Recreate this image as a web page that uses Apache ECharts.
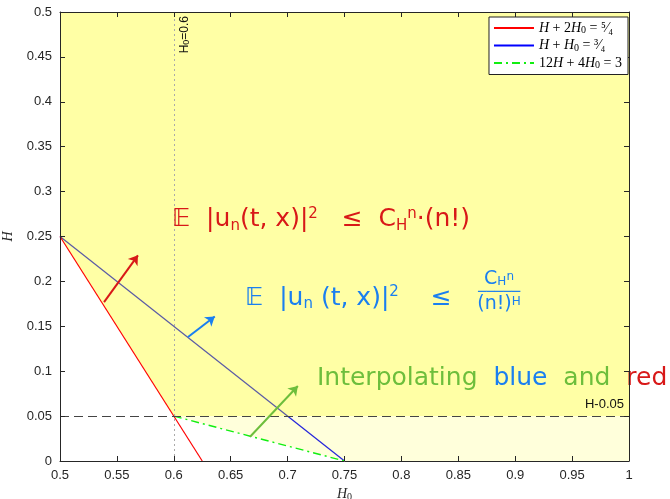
<!DOCTYPE html>
<html><head><meta charset="utf-8">
<script src="https://cdn.jsdelivr.net/npm/echarts@6/dist/echarts.min.js"></script>
<style>html,body{margin:0;padding:0;background:#fff}#c{width:670px;height:499px}</style>
</head><body><div id="c"></div>
<script>
// ---- data ----
const legendNames = ['H + 2H0 = 5/4', 'H + H0 = 3/4', '12H + 4H0 = 3'];
const redH0 = [0.5, 0.625];   const redH = [0.25, 0];
const blueH0 = [0.5, 0.75];   const blueH = [0.25, 0];
const greenH0 = [0.6, 0.75];  const greenH = [0.05, 0];
const yellowBoundH0 = [0.5, 0.6, 1]; const yellowBoundH = [0.25, 0.05, 0.05];
const paleBoundH0 = [0.6, 0.75, 1];  const paleBoundH = [0.05, 0, 0];
const vLineH0 = 0.6;
const hLineH = 0.05;
const arrowRed = [[0.5387, 0.177], [0.5685, 0.229]];
const arrowBlue = [[0.6125, 0.138], [0.636, 0.161]];
const arrowGreen = [[0.667, 0.027], [0.709, 0.0835]];
const noteRedPos = [0.5984, 0.2684];
const noteBluePos = [0.6626, 0.1815];
const noteFracPos = [0.8858, 0.1882];
const noteGreenPos = [0.7258, 0.0924];

const zip = (a, b) => a.map((v, i) => [v, b[i]]);
const axisCol = '#262626';
const fmt = v => String(parseFloat(v.toFixed(2)));
const RED = '#d81818', BLUE = '#1a7ff0', GREEN = '#6dbe3c';

const chart = echarts.init(document.getElementById('c'));
const legendRich = {
  i: {fontFamily: 'Liberation Serif', fontStyle: 'italic', fontSize: 14, color: '#000'},
  n: {fontFamily: 'Liberation Serif', fontSize: 14, color: '#000'},
  s: {fontFamily: 'Liberation Serif', fontSize: 10, color: '#000', verticalAlign: 'bottom', padding: [5, 0, 0, 0]}
};
const legendFmt = {
  [legendNames[0]]: '{i|H}{n| + 2}{i|H}{s|0}{n| = ⁵⁄₄}',
  [legendNames[1]]: '{i|H}{n| + }{i|H}{s|0}{n| = ³⁄₄}',
  [legendNames[2]]: '{n|12}{i|H}{n| + 4}{i|H}{s|0}{n| = 3}'
};
const hand = 'DejaVu Sans';
function axisBase(extra) {
  return Object.assign({
    type: 'value', z: 10,
    axisLine: {show: true, onZero: false, lineStyle: {color: axisCol}},
    axisTick: {show: true, inside: true, length: 5, lineStyle: {color: axisCol}},
    splitLine: {show: false}
  }, extra);
}
const option = {
  animation: false,
  backgroundColor: '#fff',
  grid: {left: 60, right: 41, top: 12, bottom: 38, outerBoundsMode: 'none', containLabel: false},
  legend: {
    data: legendNames, orient: 'vertical', right: 42, top: 17, z: 20,
    backgroundColor: '#fff', borderColor: '#222', borderWidth: 1,
    padding: [4, 6, 4, 4], itemGap: 3, itemWidth: 40, itemHeight: 14,
    itemStyle: {opacity: 0},
    formatter: n => legendFmt[n], textStyle: {rich: legendRich}
  },
  xAxis: [axisBase({
    min: 0.5, max: 1, interval: 0.05, position: 'bottom',
    axisLabel: {color: axisCol, fontSize: 13, fontFamily: 'Liberation Sans', margin: 8, formatter: fmt},
    name: '{i|H}{s|0}', nameLocation: 'middle', nameGap: 26,
    nameTextStyle: {rich: {
      i: {fontFamily: 'Liberation Serif', fontStyle: 'italic', fontSize: 14, color: axisCol},
      s: {fontFamily: 'Liberation Serif', fontSize: 10, color: axisCol, verticalAlign: 'bottom', padding: [5, 0, 0, 0]}
    }}
  }), axisBase({
    min: 0.5, max: 1, interval: 0.05, position: 'top', axisLabel: {show: false}
  })],
  yAxis: [axisBase({
    min: 0, max: 0.5, interval: 0.05, position: 'left',
    axisLabel: {color: axisCol, fontSize: 13, fontFamily: 'Liberation Sans', margin: 8, formatter: fmt},
    name: 'H', nameLocation: 'middle', nameGap: 44,
    nameTextStyle: {fontFamily: 'Liberation Serif', fontStyle: 'italic', fontSize: 14, color: axisCol}
  }), axisBase({
    min: 0, max: 0.5, interval: 0.05, position: 'right', axisLabel: {show: false}
  })],
  series: [
    {name: legendNames[1], type: 'line', z: 2, data: zip(blueH0, blueH), symbol: 'none',
     color: '#0000ff', lineStyle: {color: '#0000ff', width: 1.2}},
    {type: 'line', z: 3, data: zip(yellowBoundH0, yellowBoundH), symbol: 'none', silent: true,
     lineStyle: {width: 0}, areaStyle: {color: 'rgba(255,255,0,0.5)', origin: 'end'}},
    {type: 'line', z: 3, data: zip(paleBoundH0, paleBoundH), symbol: 'none', silent: true,
     lineStyle: {width: 0}, areaStyle: {color: 'rgba(255,255,0,0.2)', origin: hLineH}},
    {name: legendNames[0], type: 'line', z: 4, data: zip(redH0, redH), symbol: 'none',
     color: '#ff0000', lineStyle: {color: '#ff0000', width: 1.2}},
    {name: legendNames[2], type: 'line', z: 4, data: zip(greenH0, greenH), symbol: 'none',
     color: '#11ee11', lineStyle: {color: '#11ee11', width: 1.4, type: [8, 4, 2, 4]}},
    {type: 'line', z: 5, data: [], symbol: 'none', silent: true,
     markLine: {symbol: 'none', silent: true, data: [
       {xAxis: vLineH0, lineStyle: {color: '#aaa', type: [2, 3], width: 1},
        label: {show: true, position: 'insideEndBottom', distance: 4, formatter: '{a|H}{s|0}{a|=0.6}',
                rich: {a: {fontFamily: 'Liberation Sans', fontSize: 12, color: '#111'},
                       s: {fontFamily: 'Liberation Sans', fontSize: 9, color: '#111', verticalAlign: 'bottom', padding: [4, 0, 0, 0]}}}},
       {yAxis: hLineH, lineStyle: {color: '#444', type: [9, 5], width: 1},
        label: {show: true, position: 'insideEndTop', distance: 5, formatter: 'H-0.05',
                fontFamily: 'Liberation Sans', fontSize: 13, color: '#111'}}
     ]}},
    {type: 'line', z: 6, data: [], symbol: 'none', silent: true,
     markLine: {symbol: ['none', 'arrow'], symbolSize: 9, silent: true, label: {show: false}, data: [
       [{coord: arrowRed[0], lineStyle: {color: RED, width: 2, type: 'solid'}}, {coord: arrowRed[1]}],
       [{coord: arrowBlue[0], lineStyle: {color: BLUE, width: 2, type: 'solid'}}, {coord: arrowBlue[1]}],
       [{coord: arrowGreen[0], lineStyle: {color: GREEN, width: 2, type: 'solid'}}, {coord: arrowGreen[1]}]
     ]}},
    {type: 'scatter', z: 7, symbolSize: 0, silent: true, itemStyle: {opacity: 1}, data: [
      {value: noteRedPos, label: {show: true, position: 'right', distance: 0, opacity: 1,
        formatter: '{m|𝔼  |u}{s|n}{m|(t, x)|}{p|2}{m|   ≤  C}{s|H}{p|n}{m|·(n!)}',
        rich: {m: {fontFamily: hand, fontSize: 25, color: RED},
               s: {fontFamily: hand, fontSize: 15, color: RED, verticalAlign: 'bottom', padding: [12, 0, 0, 0]},
               p: {fontFamily: hand, fontSize: 15, color: RED, verticalAlign: 'top', padding: [0, 0, 12, 0]}}}},
      {value: noteBluePos, label: {show: true, position: 'right', distance: 0, opacity: 1,
        formatter: '{m|𝔼  |u}{s|n}{m| (t, x)|}{p|2}{m|    ≤}',
        rich: {m: {fontFamily: hand, fontSize: 25, color: BLUE},
               s: {fontFamily: hand, fontSize: 15, color: BLUE, verticalAlign: 'bottom', padding: [12, 0, 0, 0]},
               p: {fontFamily: hand, fontSize: 15, color: BLUE, verticalAlign: 'top', padding: [0, 0, 12, 0]}}}},
      {value: noteFracPos, label: {show: true, position: 'inside', opacity: 1, align: 'center',
        formatter: '{f|C}{fs|H}{fp|n}\n{b|─────}\n{f|(n!)}{fp|H}',
        rich: {f: {fontFamily: hand, fontSize: 19, color: BLUE, lineHeight: 17, align: 'center'},
               b: {fontFamily: hand, fontSize: 14, color: BLUE, lineHeight: 8, align: 'center'},
               fs: {fontFamily: hand, fontSize: 12, color: BLUE, verticalAlign: 'bottom', lineHeight: 17},
               fp: {fontFamily: hand, fontSize: 12, color: BLUE, verticalAlign: 'top', lineHeight: 17}}}},
      {value: noteGreenPos, label: {show: true, position: 'right', distance: 0, opacity: 1,
        formatter: '{g|Interpolating  }{b|blue}{g|  and  }{r|red}',
        rich: {g: {fontFamily: hand, fontSize: 25, color: GREEN},
               b: {fontFamily: hand, fontSize: 25, color: BLUE},
               r: {fontFamily: hand, fontSize: 25, color: RED}}}}
    ]}
  ]
};
chart.setOption(option);
</script></body></html>
